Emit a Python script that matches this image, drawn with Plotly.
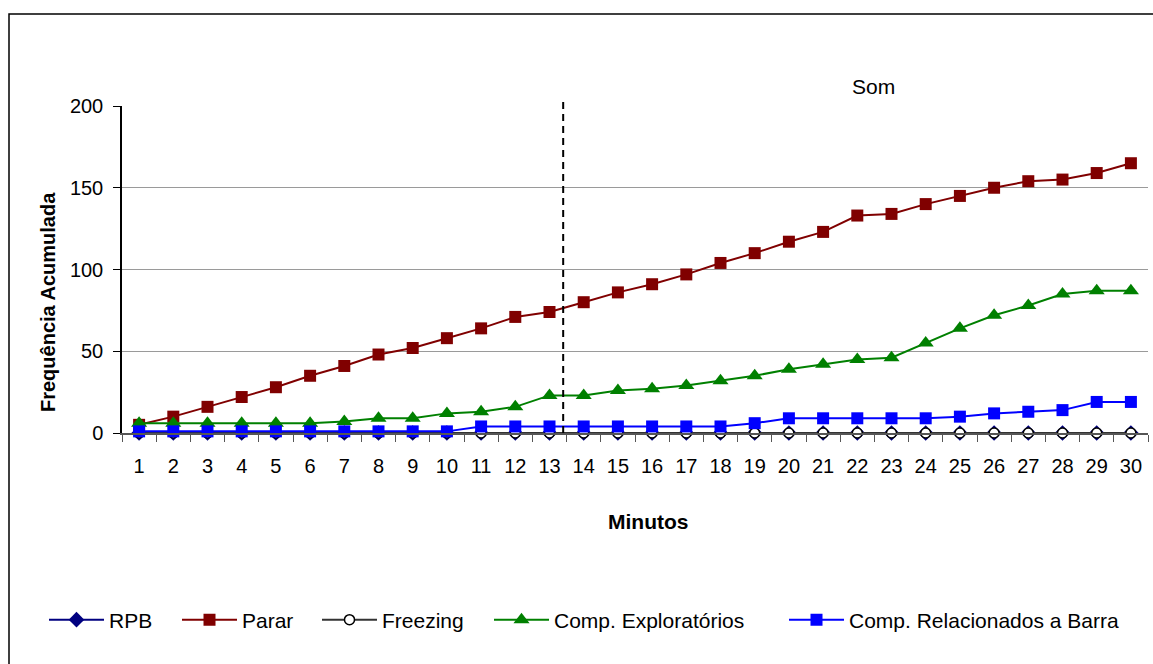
import plotly.graph_objects as go

minutos = [str(i) for i in range(1, 31)]
rpb = [0] * 30
parar = [5, 10, 16, 22, 28, 35, 41, 48, 52, 58, 64, 71, 74, 80, 86, 91, 97, 104, 110, 117,
         123, 133, 134, 140, 145, 150, 154, 155, 159, 165]
freezing = [0] * 30
comp_exp = [6, 6, 6, 6, 6, 6, 7, 9, 9, 12, 13, 16, 23, 23, 26, 27, 29, 32, 35, 39,
            42, 45, 46, 55, 64, 72, 78, 85, 87, 87]
comp_rel = [1, 1, 1, 1, 1, 1, 1, 1, 1, 1, 4, 4, 4, 4, 4, 4, 4, 4, 6, 9,
            9, 9, 9, 9, 10, 12, 13, 14, 19, 19]

FONT = "Liberation Sans, Arial, sans-serif"

W, H = 1153, 664
L, R, T, B = 122, 5, 106, 231
pw, ph = W - L - R, H - T - B

def px(x):
    return (x - L) / pw

def py(y):
    return (H - B - y) / ph

series = [
    ("RPB", rpb, "#000080", dict(symbol="diamond", size=12, color="#000080")),
    ("Parar", parar, "#800000", dict(symbol="square", size=12, color="#800000")),
    ("Freezing", freezing, "#333333", dict(symbol="circle", size=10, color="white",
                                            line=dict(color="black", width=1.5))),
    ("Comp. Exploratórios", comp_exp, "#008000", dict(symbol="triangle-up", size=14, color="#008000")),
    ("Comp. Relacionados a Barra", comp_rel, "#0000FF", dict(symbol="square", size=12, color="#0000FF")),
]
legend_starts = [50, 183, 323, 495, 790]
legend_ids = ["legend", "legend2", "legend3", "legend4", "legend5"]

fig = go.Figure()
for (name, vals, col, mk), lid in zip(series, legend_ids):
    fig.add_trace(go.Scatter(x=minutos, y=vals, name=name, mode="lines+markers",
                             line=dict(color=col, width=2), marker=mk, cliponaxis=False,
                             legend=lid))

fig.update_xaxes(type="category", tickson="boundaries", ticks="outside", ticklen=7,
                 tickcolor="#555", showline=True, linecolor="#555", linewidth=1.5,
                 showgrid=False, tickfont=dict(family=FONT, size=20, color="black"),
                 tickangle=0, ticklabelstandoff=14, zeroline=False, range=[-0.5, 29.5],
                 automargin=False)
fig.update_yaxes(range=[0, 200], tickvals=[0, 50, 100, 150, 200], ticks="outside", ticklen=7,
                 tickcolor="black", showline=True, linecolor="black", linewidth=1.5,
                 showgrid=True, gridcolor="#9a9a9a", gridwidth=1, zeroline=False,
                 tickfont=dict(family=FONT, size=20, color="black"), ticklabelstandoff=6,
                 automargin=False)

# dashed separator between minutes 13 and 14
fig.add_shape(type="line", xref="x", yref="paper", x0=12.4, x1=12.4, y0=0, y1=py(98),
              line=dict(color="black", width=2, dash="7px,5px"))
# outer frame
fig.add_shape(type="rect", xref="paper", yref="paper", x0=px(9), x1=px(1160), y0=py(14), y1=py(670),
              line=dict(color="black", width=1.5), fillcolor="rgba(0,0,0,0)", layer="below")

fig.add_annotation(text="Som", xref="paper", yref="paper", x=px(873), y=py(86), showarrow=False,
                   xanchor="center", yanchor="middle",
                   font=dict(family=FONT, size=21, color="black"))
fig.add_annotation(text="<b>Minutos</b>", xref="paper", yref="paper", x=px(648), y=py(521),
                   showarrow=False, xanchor="center", yanchor="middle",
                   font=dict(family=FONT, size=21, color="black"))
fig.add_annotation(text="<b>Frequência Acumulada</b>", xref="paper", yref="paper", x=px(48), y=py(302),
                   showarrow=False, textangle=-90, xanchor="center", yanchor="middle",
                   font=dict(family=FONT, size=20, color="black"))

layout_legends = {}
for lid, xs in zip(legend_ids, legend_starts):
    layout_legends[lid] = dict(orientation="h", x=px(xs - 6), y=py(620), xanchor="left",
                               yanchor="middle", font=dict(family=FONT, size=21, color="black"),
                               itemwidth=55, bgcolor="rgba(0,0,0,0)")

fig.update_layout(
    width=W, height=H, margin=dict(l=L, r=R, t=T, b=B),
    paper_bgcolor="white", plot_bgcolor="white", showlegend=True,
    **layout_legends,
)

fig.write_html("out.html")
